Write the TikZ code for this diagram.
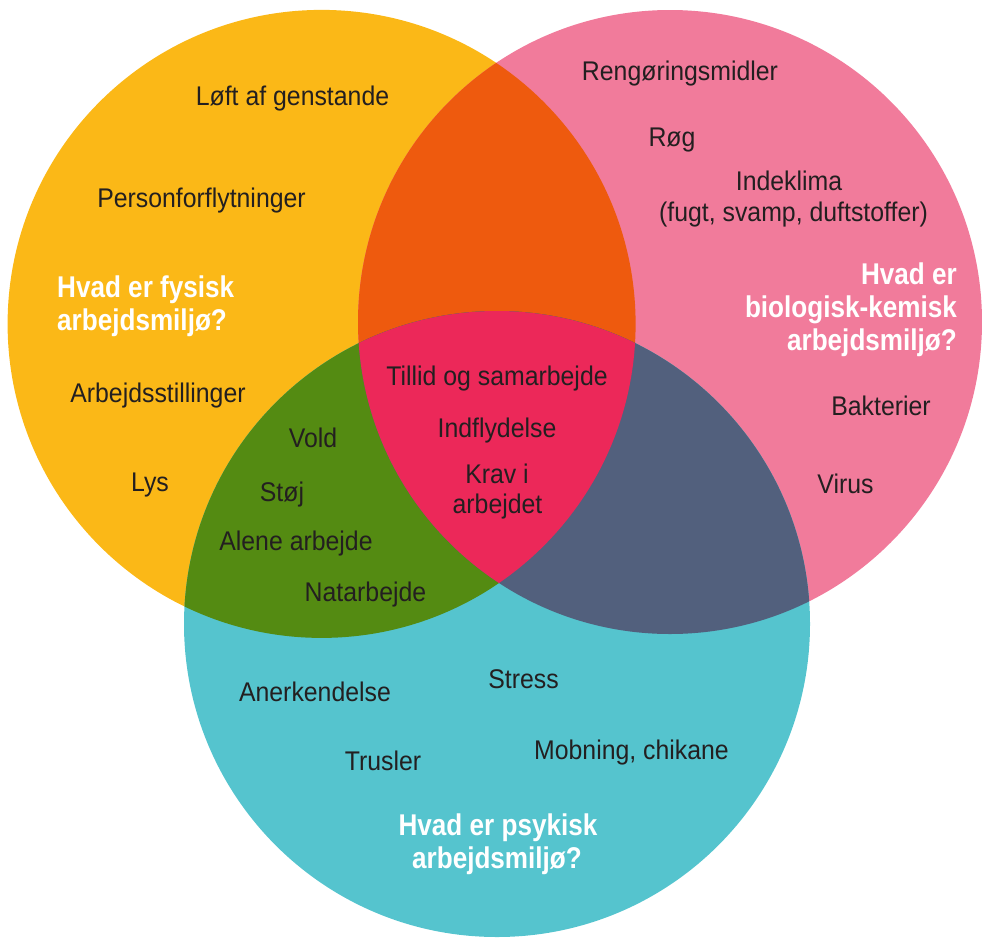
\documentclass[tikz,border=0pt]{standalone}
\usepackage{fontspec}
\newfontfamily\regf{Liberation Sans}[FakeStretch=0.92]
\newfontfamily\boldf{Liberation Sans}[FakeStretch=0.87]
\definecolor{cY}{HTML}{FBB817}
\definecolor{cP}{HTML}{F17B9B}
\definecolor{cC}{HTML}{55C4CE}
\definecolor{cO}{HTML}{EE5A0E}
\definecolor{cG}{HTML}{548B12}
\definecolor{cS}{HTML}{52607D}
\definecolor{cR}{HTML}{EC2859}
\definecolor{ink}{HTML}{231F20}
\begin{document}
\begin{tikzpicture}[x=1pt,y=-1pt,
  lbl/.style={inner sep=0pt, anchor=base, text=ink, font=\regf\fontsize{27}{31}\selectfont},
  qst/.style={inner sep=0pt, text=white, font=\boldf\bfseries\fontsize{30}{33}\selectfont},
  ry/.style={radius=314pt}, rp/.style={radius=312pt}, rc/.style={radius=313pt}]
\useasboundingbox (0,0) rectangle (982,937);
\coordinate (Y) at (321.6,323.9);
\coordinate (P) at (670,322);
\coordinate (C) at (497,624);
% circles
\fill[cY] (Y) circle[ry];
\fill[cP] (P) circle[rp];
\fill[cC] (C) circle[rc];
\begin{scope}\clip (Y) circle[ry]; \fill[cO] (P) circle[rp];\end{scope}
\begin{scope}\clip (Y) circle[ry]; \fill[cG] (C) circle[rc];\end{scope}
\begin{scope}\clip (P) circle[rp]; \fill[cS] (C) circle[rc];\end{scope}
\begin{scope}\clip (Y) circle[ry]; \clip (P) circle[rp]; \fill[cR] (C) circle[rc];\end{scope}
% physical
\node[lbl] (lof) at (292.5,105) {Løft af genstande};
\node[lbl] (per) at (201.5,207) {Personforflytninger};
\node[qst,anchor=base west] (fys1) at (57,297) {Hvad er fysisk};
\node[qst,anchor=base west] (fys2) at (57,330) {arbejdsmiljø?};
\node[lbl] (arb) at (158,402) {Arbejdsstillinger};
\node[lbl] (lys) at (150,491) {Lys};
% bio-chem
\node[lbl] (ren) at (680,80) {Rengøringsmidler};
\node[lbl] (rog) at (672,146) {Røg};
\node[lbl] (ind1) at (789,190) {Indeklima};
\node[lbl] (ind2) at (793.5,221) {(fugt, svamp, duftstoffer)};
\node[qst,anchor=base east] (bio1) at (957,284) {Hvad er};
\node[qst,anchor=base east] (bio2) at (957,317) {biologisk-kemisk};
\node[qst,anchor=base east] (bio3) at (957,350) {arbejdsmiljø?};
\node[lbl] (bak) at (881,415) {Bakterier};
\node[lbl] (vir) at (845.5,493) {Virus};
% centre
\node[lbl] (til) at (497,385) {Tillid og samarbejde};
\node[lbl] (ifl) at (497,437) {Indflydelse};
\node[lbl] (krv1) at (497,483) {Krav i};
\node[lbl] (krv2) at (497.5,513) {arbejdet};
% green
\node[lbl] (vold) at (313,447) {Vold};
\node[lbl] (stoj) at (282,501) {Støj};
\node[lbl] (alene) at (296,550) {Alene arbejde};
\node[lbl] (nat) at (365.5,601) {Natarbejde};
% psychological
\node[lbl] (ane) at (315,701) {Anerkendelse};
\node[lbl] (str) at (523.5,688) {Stress};
\node[lbl] (tru) at (383,770) {Trusler};
\node[lbl] (mob) at (631.5,759) {Mobning, chikane};
\node[qst,anchor=base] (psy1) at (498,835) {Hvad er psykisk};
\node[qst,anchor=base] (psy2) at (497,868) {arbejdsmiljø?};
\end{tikzpicture}
\end{document}
